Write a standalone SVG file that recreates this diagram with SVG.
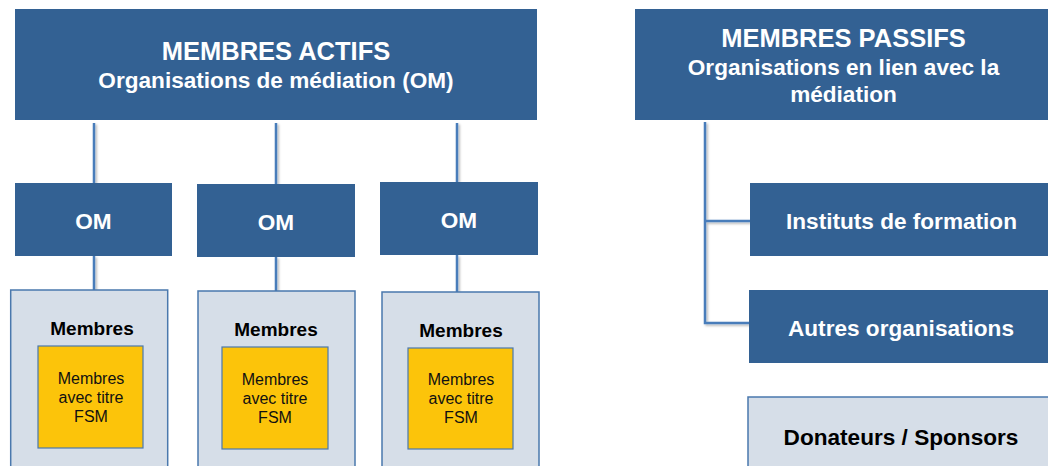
<svg xmlns="http://www.w3.org/2000/svg" width="1048" height="466" viewBox="0 0 1048 466">
<defs>
<style>
.dark{fill:#336193;}
.light{fill:#D6DEE8;stroke:#4A78AD;stroke-width:1.5;}
.yel{fill:#FCC40A;stroke:#4A78AD;stroke-width:1.2;}
.conn{stroke:#4A7DBA;stroke-width:2.5;fill:none;}
.wt{font-family:"Liberation Sans",Arial,sans-serif;font-weight:bold;fill:#FFFFFF;text-anchor:middle;}
.bt{font-family:"Liberation Sans",Arial,sans-serif;font-weight:bold;fill:#000000;text-anchor:middle;}
.yt{font-family:"Liberation Sans",Arial,sans-serif;fill:#111111;text-anchor:middle;font-size:16px;}
</style>
<filter id="sh" x="-20%" y="-20%" width="140%" height="140%">
<feDropShadow dx="1.5" dy="1.5" stdDeviation="1" flood-color="#000" flood-opacity="0.3"/>
</filter>
</defs>
<rect width="1048" height="466" fill="#FFFFFF"/>

<g id="connectors" filter="url(#sh)">
<line class="conn" x1="94" y1="123" x2="94" y2="183"/>
<line class="conn" x1="276" y1="123" x2="276" y2="184"/>
<line class="conn" x1="457" y1="123" x2="457" y2="182"/>
<line class="conn" x1="94" y1="256" x2="94" y2="290"/>
<line class="conn" x1="276" y1="257" x2="276" y2="291"/>
<line class="conn" x1="457" y1="255" x2="457" y2="292"/>
<polyline class="conn" points="705,122 705,323 750,323"/>
<line class="conn" x1="705" y1="221" x2="750" y2="221"/>
</g>

<g id="actifs">
<rect class="dark" x="15" y="9" width="522" height="111"/>
<text class="wt" x="276" y="60" font-size="25.5">MEMBRES ACTIFS</text>
<text class="wt" x="276" y="88" font-size="22.6">Organisations de médiation (OM)</text>
</g>

<g id="om1">
<rect class="dark" x="15" y="183" width="157" height="73"/>
<text class="wt" x="93.5" y="229" font-size="22.6">OM</text>
</g>
<g id="om2">
<rect class="dark" x="197" y="184" width="158" height="73"/>
<text class="wt" x="276" y="230" font-size="22.6">OM</text>
</g>
<g id="om3">
<rect class="dark" x="380" y="182" width="158" height="73"/>
<text class="wt" x="459" y="228" font-size="22.6">OM</text>
</g>

<g id="membres1">
<rect class="light" x="10.7" y="290" width="157" height="190"/>
<text class="bt" x="92" y="335" font-size="19">Membres</text>
<rect class="yel" x="38" y="346" width="105" height="102"/>
<text class="yt" x="91" y="384">Membres</text>
<text class="yt" x="91" y="403">avec titre</text>
<text class="yt" x="91" y="422">FSM</text>
</g>
<g id="membres2">
<rect class="light" x="198" y="291" width="157" height="190"/>
<text class="bt" x="276" y="336" font-size="19">Membres</text>
<rect class="yel" x="222" y="347" width="106" height="102"/>
<text class="yt" x="275" y="385">Membres</text>
<text class="yt" x="275" y="404">avec titre</text>
<text class="yt" x="275" y="423">FSM</text>
</g>
<g id="membres3">
<rect class="light" x="382" y="292" width="157" height="190"/>
<text class="bt" x="461" y="337" font-size="19">Membres</text>
<rect class="yel" x="408" y="348" width="105" height="101"/>
<text class="yt" x="461" y="385">Membres</text>
<text class="yt" x="461" y="404">avec titre</text>
<text class="yt" x="461" y="423">FSM</text>
</g>

<g id="passifs">
<rect class="dark" x="635" y="9" width="420" height="111"/>
<text class="wt" x="843.5" y="47" font-size="25.5">MEMBRES PASSIFS</text>
<text class="wt" x="843.5" y="75" font-size="22.6">Organisations en lien avec la</text>
<text class="wt" x="843.5" y="102" font-size="22.6">médiation</text>
</g>

<g id="instituts">
<rect class="dark" x="750" y="183" width="300" height="73"/>
<text class="wt" x="901.5" y="229" font-size="22.6">Instituts de formation</text>
</g>
<g id="autres">
<rect class="dark" x="749" y="290" width="300" height="73"/>
<text class="wt" x="901" y="336" font-size="22.6">Autres organisations</text>
</g>
<g id="donateurs">
<rect class="light" x="748" y="397" width="310" height="90"/>
<text class="bt" x="901" y="445" font-size="22.6">Donateurs / Sponsors</text>
</g>
</svg>
